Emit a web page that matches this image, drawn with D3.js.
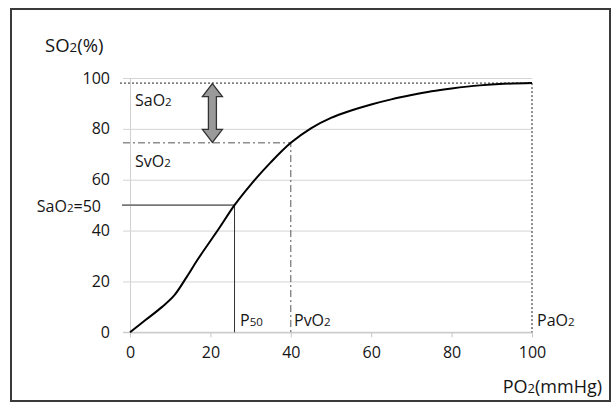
<!DOCTYPE html>
<html>
<head>
<meta charset="utf-8">
<script src="https://cdn.jsdelivr.net/npm/d3@7"></script>
<style>
  body { margin: 0; background: #fff; }
  svg { display: block; }
  text { font-family: "Open Sans", "Noto Sans", sans-serif; fill: #151515; }
</style>
</head>
<body>
<svg id="chart" width="613" height="403"></svg>
<script>
// oxygen dissociation curve
var po2 = [0, 4, 8, 11, 14, 17, 22, 26, 30, 35, 40, 45, 50, 55, 60, 65, 70, 75, 80, 87, 93, 100]
var so2 = [0, 5, 10, 14.5, 21.5, 29, 40.5, 50, 58, 66.8, 74.5, 80.2, 84.3, 87.2, 89.6, 91.6, 93.3, 94.8, 95.9, 97.1, 97.7, 98]

var xTicks = [0, 20, 40, 60, 80, 100]
var yTicks = [0, 20, 40, 60, 80, 100]

var sao2 = 98
var svo2 = 74.5
var pvo2 = 40
var pao2 = 100
var p50 = 26
var arrowAt = 20.5

var svg = d3.select('#chart')

// outer frame
svg.append('rect')
    .attr('x', 11).attr('y', 9)
    .attr('width', 599).attr('height', 392)
    .attr('fill', 'none')
    .attr('stroke', '#3a3a3a')
    .attr('stroke-width', 2)

var x = d3.scaleLinear().domain([0, 100]).range([130, 532])
var y = d3.scaleLinear().domain([0, 100]).range([332.3, 78])

// grid + y axis
var yAxis = d3.axisLeft(y).tickValues(yTicks).tickSize(-(532 - 130)).tickPadding(20)
var gy = svg.append('g').attr('transform', 'translate(130,0)').call(yAxis)
gy.select('.domain').attr('stroke', '#d0d0d0')
gy.selectAll('.tick line').attr('stroke', '#d4d4d4').attr('x1', -7)
gy.selectAll('.tick text').attr('font-size', 16).attr('fill', '#151515')

// x axis
var xAxis = d3.axisBottom(x).tickValues(xTicks).tickSize(5).tickPadding(9)
var gx = svg.append('g').attr('transform', 'translate(0,' + y(0) + ')').call(xAxis)
gx.select('.domain').attr('stroke', '#c8c8c8').attr('d', 'M123,0H532')
gx.selectAll('.tick line').attr('stroke', '#c8c8c8')
gx.selectAll('.tick text').attr('font-size', 16).attr('fill', '#151515')

// SaO2 / PaO2 dotted
svg.append('path')
    .attr('d', 'M120,' + y(sao2) + 'H' + x(pao2) + 'V' + y(0))
    .attr('fill', 'none')
    .attr('stroke', '#222')
    .attr('stroke-width', 1)
    .attr('stroke-dasharray', '2,2')

// SvO2 / PvO2 dash-dot
svg.append('path')
    .attr('d', 'M123,' + y(svo2) + 'H' + x(pvo2) + 'V' + y(0))
    .attr('fill', 'none')
    .attr('stroke', '#555')
    .attr('stroke-width', 1)
    .attr('stroke-dasharray', '7,3,2,3')

// SaO2=50 line and P50 line
svg.append('line')
    .attr('x1', 122).attr('x2', x(p50))
    .attr('y1', y(50)).attr('y2', y(50))
    .attr('stroke', '#777').attr('stroke-width', 1.6)
svg.append('line')
    .attr('x1', x(p50)).attr('x2', x(p50))
    .attr('y1', y(50)).attr('y2', y(0))
    .attr('stroke', '#333').attr('stroke-width', 1)

// the curve
var line = d3.line()
    .x(function (d, i) { return x(po2[i]) })
    .y(function (d, i) { return y(d) })
    .curve(d3.curveCatmullRom)

svg.append('path')
    .attr('d', line(so2))
    .attr('fill', 'none')
    .attr('stroke', '#000')
    .attr('stroke-width', 2)

// double arrow between SaO2 and SvO2
var ax = x(arrowAt)
var yTop = y(sao2) + 0.5
var yBot = y(svo2) - 0.5
var hw = 10, hh = 13, sw = 4
var arrow = [
  [ax, yTop], [ax + hw, yTop + hh], [ax + sw, yTop + hh],
  [ax + sw, yBot - hh], [ax + hw, yBot - hh], [ax, yBot],
  [ax - hw, yBot - hh], [ax - sw, yBot - hh], [ax - sw, yTop + hh],
  [ax - hw, yTop + hh]
]
svg.append('path')
    .attr('d', 'M' + arrow.join('L') + 'Z')
    .attr('fill', '#9a9a9a')
    .attr('stroke', '#333')
    .attr('stroke-width', 1.3)
    .attr('stroke-linejoin', 'miter')

// labels with small subscript 2
function label (tx, ty, parts, size, anchor) {
  var t = svg.append('text')
      .attr('x', tx).attr('y', ty)
      .attr('font-size', size)
      .attr('text-anchor', anchor || 'start')
  parts.forEach(function (p) {
    t.append('tspan')
        .attr('font-size', p[1] ? size * 0.72 : size)
        .text(p[0])
  })
}

label(45, 52, [['SO', 0], ['2', 1], ['(%)', 0]], 18.5)
label(135, 106, [['SaO', 0], ['2', 1]], 16)
label(135, 167, [['SvO', 0], ['2', 1]], 16)
label(101, 212, [['SaO', 0], ['2', 1], ['=50', 0]], 16, 'end')
label(240, 326, [['P', 0], ['50', 1]], 16)
label(294, 326, [['PvO', 0], ['2', 1]], 16)
label(537, 326, [['PaO', 0], ['2', 1]], 16)
label(602, 393, [['PO', 0], ['2', 1], ['(mmHg)', 0]], 18, 'end')
</script>
</body>
</html>
